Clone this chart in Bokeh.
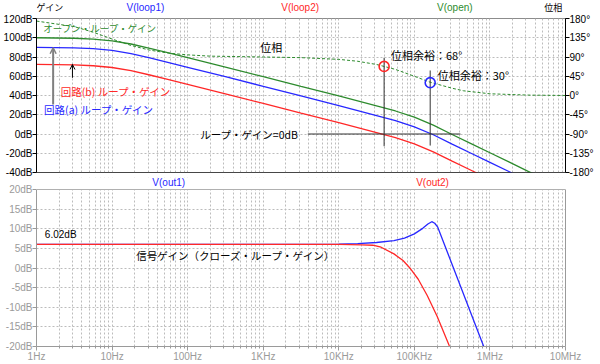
from bokeh.plotting import figure
from bokeh.models import (Range1d, LinearAxis, FixedTicker, Label, Arrow, OpenHead, Span,
                          BoxAnnotation)
from bokeh.layouts import column
from bokeh.embed import file_html
from bokeh.resources import INLINE

# ---------------- data ----------------
freq_gain = [1, 3.16, 5.62, 10, 17.8, 31.6, 56.2, 100, 316, 1000, 3160, 10000,
             31600, 56200, 100000, 178000, 316000, 562000, 1000000, 1780000, 3160000, 5620000]
open_gain_db = [100, 99.5, 98.6, 96.8, 93.5, 89.0, 84.2, 79.3, 69.5, 59.5, 49.5, 39.5,
                29.2, 23.9, 17.5, 9.2, -0.5, -10, -19.5, -29, -38.6, -48]
loop_a_db = [90, 89.5, 88.6, 86.8, 83.5, 79.0, 74.2, 69.3, 59.5, 49.5, 39.5, 29.5,
             19.2, 13.9, 7.5, -0.8, -10.5, -20, -29.5, -39, -48.6, -58]
loop_b_db = [72.3, 71.8, 70.9, 69.1, 65.8, 61.3, 56.5, 51.6, 41.8, 31.8, 21.8, 11.8,
             1.5, -3.8, -10.2, -18.5, -28.2, -37.7, -47.2, -56.7, -66.3, -75.7]

freq_phase = [1, 3.16, 5.62, 10, 17.8, 31.6, 56.2, 100, 200, 1000, 3160, 10000, 17800,
              31600, 39800, 56200, 100000, 162000, 316000, 447000, 1000000, 3160000, 10000000]
open_phase_deg = [174, 161, 148, 132, 117, 106, 99, 95, 92, 90, 88.5, 84.5, 80,
                  72.5, 68, 61, 45, 31, 17, 11, 4, 1, 0]

freq_out1 = [1, 10000, 17800, 31600, 53700, 74100, 100000, 129000, 151000, 170000,
             186000, 204000, 316000, 501000, 813000, 1000000]
out1_db = [6.02, 6.05, 6.2, 6.5, 7.0, 7.6, 8.7, 10.1, 11.2, 11.8, 11.4, 10.4, 0.9, -9.1, -19.6, -24]

freq_out2 = [1, 10000, 20000, 28200, 36300, 53700, 70800, 89100, 112000, 148000, 200000, 288000, 355000]
out2_db = [6.02, 6.0, 5.9, 5.8, 5.3, 3.6, 1.9, -0.2, -2.8, -7.0, -12.3, -19.7, -23.5]

pm_freq = [39800, 162000]          # 0 dB crossings of loop (b) and loop (a)
pm_deg = [68, 30]                  # phase margins
pm_line_top_db = [79.2, 66]
pm_line_bottom_db = [-12.7, -12]
zero_db_span = [3890, 407000]

x_ticks = [1, 10, 100, 1000, 10000, 100000, 1000000, 10000000]
x_labels = ["1Hz", "10Hz", "100Hz", "1KHz", "10KHz", "100KHz", "1MHz", "10MHz"]
gain_ticks = [-40, -20, 0, 20, 40, 60, 80, 100, 120]
phase_ticks = [-180, -135, -90, -45, 0, 45, 90, 135, 180]
out_ticks = [-20, -15, -10, -5, 0, 5, 10, 15, 20]

# ---------------- styles ----------------
GREEN = "#2e8b2e"
BLUE = "#2828ff"
RED = "#ff2828"
GRID = "#bcbcbc"
GRAY = "#9a9a9a"
LAT = "Liberation Sans"
JP = "Noto Sans CJK JP"

minor_x = [m * 10 ** k for k in range(7) for m in range(2, 10)]


def x_ticker():
    return FixedTicker(ticks=x_ticks, minor_ticks=minor_x)


def style_grid(p):
    for g in (p.xgrid, p.ygrid):
        g.grid_line_color = GRID
        g.grid_line_dash = "2 2"
        g.grid_line_width = 1
    p.xgrid.minor_grid_line_color = GRID
    p.xgrid.minor_grid_line_dash = "2 2"


def lab(p, x, y, text, color="black", size="10px", font=LAT, align="left", rng=None):
    kw = dict(x=x, y=y, text=text, text_color=color, text_font_size=size, text_font=font,
              text_align=align, text_baseline="middle")
    if rng:
        kw["y_range_name"] = rng
    p.add_layout(Label(**kw))


# ---------------- header strip (page pixels) ----------------
hs = figure(width=600, height=13, x_range=Range1d(0, 600), y_range=Range1d(13, 0),
            output_backend="svg", toolbar_location=None, x_axis_location=None,
            y_axis_location=None, min_border=0)
hs.outline_line_color = None
hs.grid.visible = False
lab(hs, 0, 6.5, "ゲイン", size="9px", font=JP)
lab(hs, 576, 6.5, "位相", size="9px", font=JP)
lab(hs, 123.5, 6.6, "V(loop1)", color=BLUE, align="center")
lab(hs, 299, 6.6, "V(loop2)", color=RED, align="center")
lab(hs, 474.5, 6.6, "V(open)", color=GREEN, align="center")

# ---------------- top figure ----------------
p1 = figure(width=600, height=164, x_axis_type="log", x_range=Range1d(1, 1e7),
            y_range=Range1d(-40, 120), output_backend="svg", toolbar_location=None,
            min_border_left=35, min_border_right=35, min_border_top=5, min_border_bottom=5)
p1.extra_y_ranges = {"phase": Range1d(-180, 180)}
p1.outline_line_color = "#8c8c8c"

p1.xaxis.ticker = x_ticker()
p1.xaxis.visible = False

p1.yaxis.ticker = FixedTicker(ticks=gain_ticks)
p1.yaxis.major_label_overrides = {v: f"{v}dB" for v in gain_ticks}
ra = LinearAxis(y_range_name="phase", ticker=FixedTicker(ticks=phase_ticks),
                major_label_overrides={v: f"{v}°" for v in phase_ticks})
p1.add_layout(ra, "right")
for ax in (p1.yaxis[0], ra):
    ax.axis_line_color = "black"
    ax.major_tick_line_color = "black"
    ax.major_tick_out = 4
    ax.major_tick_in = 0
    ax.minor_tick_line_color = None
    ax.major_label_standoff = 0
    ax.major_label_text_font = LAT
    ax.major_label_text_font_size = "10px"
    ax.major_label_text_color = "black"
style_grid(p1)
p1.xgrid.ticker = x_ticker()
p1.add_layout(Span(location=-40, dimension="width", line_color="black", line_width=1))

p1.line(freq_phase, open_phase_deg, y_range_name="phase", line_color=GREEN,
        line_width=1, line_dash="3 2")
p1.line(freq_gain, loop_b_db, line_color=RED, line_width=1.3)
p1.line(freq_gain, loop_a_db, line_color=BLUE, line_width=1.3)
p1.line(freq_gain, open_gain_db, line_color=GREEN, line_width=1.3)

p1.segment(x0=pm_freq, y0=pm_line_bottom_db, x1=pm_freq, y1=pm_line_top_db,
           line_color="#333333", line_width=1)
p1.segment(x0=[zero_db_span[0]], y0=[0], x1=[zero_db_span[1]], y1=[0],
           line_color="#333333", line_width=1)
p1.scatter(pm_freq, pm_deg, y_range_name="phase", marker="circle", size=10,
           fill_color=None, line_color=[RED, BLUE], line_width=1.6)

p1.add_layout(Arrow(end=OpenHead(size=6, line_color="#808080", line_width=1.5),
                    x_start=1.66, y_start=30.6, x_end=1.66, y_end=89.6,
                    line_color="#808080", line_width=2))
p1.add_layout(Arrow(end=OpenHead(size=5, line_color="black", line_width=1),
                    x_start=2.99, y_start=58.4, x_end=2.99, y_end=72.2,
                    line_color="black", line_width=1))

lab(p1, 1.23, 110.6, "オープン・ループ・ゲイン", color=GREEN, size="9.5px", font=JP)
lab(p1, 2.09, 44.5, "回路(b) ループ・ゲイン", color=RED, size="10.5px", font=JP)
lab(p1, 1.26, 25.5, "回路(a) ループ・ゲイン", color=BLUE, size="10.5px", font=JP)
lab(p1, 912, 90.6, "位相", size="11px", font=JP)
lab(p1, 2950, 0, "ループ・ゲイン=0dB", size="10.5px", font=JP, align="right")
lab(p1, 49000, 81.6, "位相余裕：68°", size="11px", font=JP)
lab(p1, 204000, 60.8, "位相余裕：30°", size="11px", font=JP)

# ---------------- bottom figure (frame extended upward for its header) ----------------
p2 = figure(width=600, height=187, x_axis_type="log", x_range=p1.x_range,
            y_range=Range1d(-20, 23.06), output_backend="svg", toolbar_location=None,
            min_border_left=35, min_border_right=35, min_border_top=0, min_border_bottom=18)
p2.outline_line_color = None
p2.xaxis.ticker = x_ticker()
p2.xaxis.major_label_overrides = {t: l for t, l in zip(x_ticks, x_labels)}
p2.yaxis.ticker = FixedTicker(ticks=out_ticks)
p2.yaxis.major_label_overrides = {v: f"{v}dB" for v in out_ticks}
p2.yaxis.bounds = (-20, 20)
rb = LinearAxis(ticker=FixedTicker(ticks=[]), bounds=(-20, 20))
p2.add_layout(rb, "right")
for ax in (p2.xaxis[0], p2.yaxis[0], rb):
    ax.axis_line_color = GRAY
    ax.major_tick_line_color = GRAY
    ax.minor_tick_line_color = GRAY
    ax.major_tick_out = 4
    ax.major_tick_in = 0
    ax.minor_tick_out = 2
    ax.minor_tick_in = 0
    ax.major_label_standoff = 0
    ax.major_label_text_font = LAT
    ax.major_label_text_font_size = "10px"
    ax.major_label_text_color = GRAY
p2.yaxis.minor_tick_line_color = None
rb.minor_tick_line_color = None
style_grid(p2)

p2.line(freq_out1, out1_db, line_color=BLUE, line_width=1.3)
p2.line(freq_out2, out2_db, line_color=RED, line_width=1.3)

p2.add_layout(BoxAnnotation(bottom=20, fill_color="white", fill_alpha=1, line_color=None))
p2.add_layout(Span(location=20, dimension="width", line_color="#b0b0b0", line_width=1))

hy2 = 21.8
lab(p2, 56.2, hy2, "V(out1)", color=BLUE, align="center")
lab(p2, 174000, hy2, "V(out2)", color=RED, align="center")
lab(p2, 1.29, 8.46, "6.02dB")
lab(p2, 20.9, 3.18, "信号ゲイン（クローズ・ループ・ゲイン）", size="10.5px", font=JP)

layout = column(hs, p1, p2, spacing=0)
open("out.html", "w").write(file_html(layout, INLINE))
